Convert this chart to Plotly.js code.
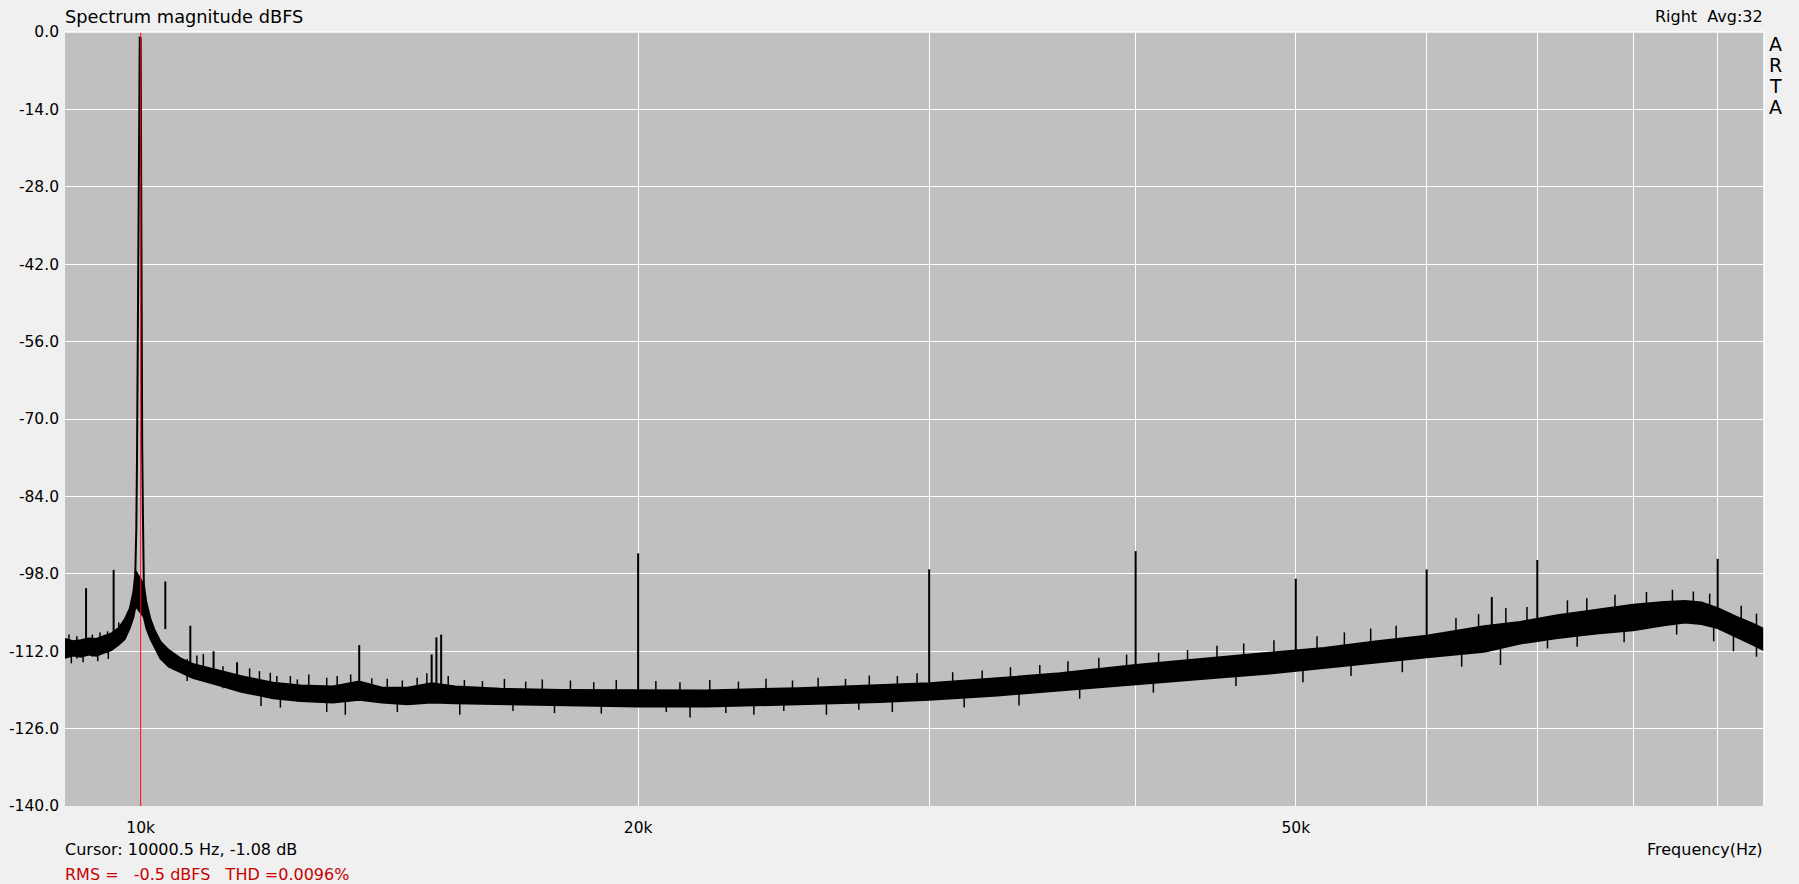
<!DOCTYPE html>
<html>
<head>
<meta charset="utf-8">
<script src="https://cdn.plot.ly/plotly-3.0.1.min.js"></script>
<style>
  html, body { margin: 0; padding: 0; background: #f0f0f0; }
  #chart { width: 1799px; height: 884px; }
</style>
</head>
<body>
<div id="chart"></div>
<script>
// ---- Noise floor band (upper / lower envelope, dBFS) ----
const bandFreq = [9000, 9100, 9200, 9300, 9400, 9500, 9600, 9700, 9780, 9850, 9900, 9930,
  10045, 10080, 10140, 10200, 10280, 10400, 10570, 10750, 10970, 11200, 11490, 11800, 12030,
  12500, 13070, 13560, 14000, 14500, 15000, 15500, 16500, 18000, 20000, 22000, 25000, 28000,
  30000, 33000, 36000, 40000, 44000, 48000, 52000, 56000, 60000, 65000, 68350, 72000, 76000,
  80000, 83500, 86000, 88000, 90000, 92400, 94500, 96000];
const bandUpper = [-109.8, -110.2, -110.0, -109.7, -109.8, -109.3, -108.8, -107.8, -106.3, -104.3, -101.3, -97.5,
  -100.0, -103.2, -106.3, -108.3, -110.3, -111.8, -113.3, -114.3, -115.0, -115.7, -116.5, -117.2, -117.7,
  -118.2, -118.4, -117.5, -118.6, -118.6, -117.8, -118.4, -118.8, -119.0, -119.0, -119.1, -118.7, -118.2,
  -117.8, -116.9, -116.0, -114.5, -113.4, -112.4, -111.4, -110.2, -109.2, -107.5, -106.7, -105.5, -104.5,
  -103.6, -103.1, -102.9, -103.2, -104.2, -105.8, -107.0, -108.0];
const bandLower = [-113.2, -112.8, -113.0, -112.6, -112.8, -112.3, -111.8, -110.8, -109.8, -107.8, -105.8, -103.8,
  -105.8, -107.8, -109.8, -111.3, -113.3, -114.8, -115.8, -116.8, -117.5, -118.3, -119.3, -120.0, -120.5,
  -121.0, -121.3, -120.8, -121.3, -121.6, -121.3, -121.4, -121.6, -121.8, -122.0, -122.0, -121.6, -121.2,
  -120.8, -120.0, -119.1, -118.0, -117.0, -116.1, -115.1, -114.0, -113.1, -112.1, -110.6, -109.6, -108.8,
  -108.2, -107.3, -106.8, -107.1, -107.8, -109.4, -110.8, -111.8];

// ---- Fundamental peak at 10 kHz ----
const peakFreq = [9926, 9940, 9950, 9962, 9975, 9988, 10000, 10006, 10013, 10022, 10031, 10045];
const peakDb   = [-98, -90, -77, -50, -21, -1.05, -1.08, -22, -63, -75, -86, -100];

// ---- Spurs / harmonics ----
const spurFreq = [9268, 9631, 10350, 10717, 11070, 11438, 13560, 15000, 15100, 15200,
  20000, 30000, 40000, 50000, 60000, 65700, 70000, 90000];
const spurTop  = [-100.6, -97.3, -99.4, -107.4, -112.0, -114.0, -110.9, -112.6, -109.5, -109.0,
  -94.3, -97.2, -93.9, -98.9, -97.2, -102.2, -95.5, -95.3];
const spurBase = [-112, -111, -108, -114, -116, -117, -119, -119, -119, -119,
  -120, -119, -116, -114, -111, -109, -108, -106];

// ---- Short noise spikes above the floor (peak dBFS) ----
const upFreq = [9050, 9150, 9350, 9450, 9550, 9700, 10815, 10913, 11215, 11640, 11800, 11980, 12090, 12320,
  12440, 12640, 12960, 13150, 13400, 13800, 14100, 14400, 14700, 14900, 15350, 15700, 16100, 16600,
  17100, 17500, 18200, 18800, 19400, 20500, 21200, 22100, 23000, 23900, 24800, 25700, 26700, 27600,
  28700, 29500, 31000, 32300, 33600, 35000, 36400, 38000, 39500, 41300, 43000, 44800, 46500, 48500,
  51500, 53500, 55500, 57500, 62500, 64500, 67000, 69000, 73000, 75000, 78000, 81500, 84500, 87000,
  89000, 93000, 95000];
const upTop = [-109.0, -109.3, -109.0, -108.6, -108.4, -106.8, -112.8, -112.5, -114.7, -115.1, -115.6, -115.9, -116.5, -116.5,
  -117.1, -116.2, -116.8, -116.5, -116.2, -116.9, -117.0, -117.3, -116.8, -116.0, -116.5, -117.2, -117.4, -117.0,
  -117.5, -117.1, -117.3, -117.6, -117.2, -117.4, -117.6, -117.2, -117.5, -117.0, -117.3, -116.8, -117.0, -116.4,
  -116.5, -116.0, -115.8, -115.5, -114.9, -114.5, -113.8, -113.2, -112.6, -112.3, -111.8, -111.0, -110.6, -110.0,
  -109.3, -108.6, -107.9, -107.4, -106.0, -105.3, -104.2, -104.0, -102.8, -102.4, -101.8, -101.3, -100.9, -101.2,
  -101.6, -103.8, -105.2];

// ---- Short noise dips below the floor (lowest dBFS) ----
const dnFreq = [9080, 9230, 9420, 9560, 10670, 11826, 12150, 12960, 13300, 14300, 15600, 16800, 17800, 19000,
  20800, 21500, 22600, 23500, 24500, 26000, 27200, 28500, 31500, 34000, 37000, 41000, 46000, 50500,
  54000, 58000, 63000, 66500, 71000, 74000, 79000, 85000, 89500, 92000, 95000];
const dnBot = [-114.2, -114.0, -113.8, -113.4, -117.4, -121.9, -122.2, -123.0, -123.5, -123.0, -123.5, -122.8, -123.2, -123.3,
  -123.0, -124.0, -123.2, -123.5, -122.8, -123.5, -122.6, -123.0, -122.2, -121.8, -120.6, -119.5, -118.3, -117.6,
  -116.5, -115.8, -114.8, -114.5, -111.5, -111.2, -110.4, -109.0, -110.2, -112.0, -113.0];

// ---- Axis ticks ----
const yTicks = [0, -14, -28, -42, -56, -70, -84, -98, -112, -126, -140];
const yTickText = ['0.0', '-14.0', '-28.0', '-42.0', '-56.0', '-70.0', '-84.0', '-98.0', '-112.0', '-126.0', '-140.0'];
const xTicks = [10000, 20000, 30000, 40000, 50000, 60000, 70000, 80000, 90000];
const xTickText = ['10k', '20k', '', '', '50k', '', '', '', ''];

const cursorFreq = 10000.5;

// ---- Build traces ----
const SPIKE_LEN = 4; // dB drawn into the band from each short spike tip
const bandX = bandFreq.concat(bandFreq.slice().reverse());
const bandY = bandUpper.concat(bandLower.slice().reverse());

function segs(xs, y0s, y1s) {
  const X = [], Y = [];
  for (let i = 0; i < xs.length; i++) {
    X.push(xs[i], xs[i], null);
    Y.push(y0s[i], y1s[i], null);
  }
  return {X, Y};
}
const spurs = segs(spurFreq, spurBase, spurTop);
const ups = segs(upFreq, upTop.map(v => v - SPIKE_LEN), upTop);
const dns = segs(dnFreq, dnBot.map(v => v + SPIKE_LEN), dnBot);

const traces = [
  {x: bandX, y: bandY, type: 'scatter', mode: 'lines', fill: 'toself', fillcolor: '#000000',
   line: {color: '#000000', width: 2}, hoverinfo: 'skip'},
  {x: ups.X, y: ups.Y, type: 'scatter', mode: 'lines', line: {color: '#000000', width: 1.5}, hoverinfo: 'skip'},
  {x: dns.X, y: dns.Y, type: 'scatter', mode: 'lines', line: {color: '#000000', width: 1.5}, hoverinfo: 'skip'},
  {x: spurs.X, y: spurs.Y, type: 'scatter', mode: 'lines', line: {color: '#000000', width: 2}, hoverinfo: 'skip'},
  {x: peakFreq, y: peakDb, type: 'scatter', mode: 'lines', line: {color: '#000000', width: 2}, hoverinfo: 'skip'},
  {x: [cursorFreq, cursorFreq], y: [-140, 0], type: 'scatter', mode: 'lines', line: {color: '#ff0000', width: 1}, hoverinfo: 'skip'}
];

// ---- Layout helpers (pixel -> paper) ----
const L = 65, T = 32, W = 1699, H = 774;
const px = v => (v - L) / W;
const py = v => (T + H - v) / H;
const FONT = 'DejaVu Sans, Liberation Sans, Arial, sans-serif';

function ann(text, x, y, xanchor, size, color) {
  return {text: text, x: px(x), y: py(y), xref: 'paper', yref: 'paper', xanchor: xanchor, yanchor: 'middle',
          showarrow: false, font: {family: FONT, size: size, color: color || '#000000'}};
}

const annotations = [
  ann('Spectrum magnitude dBFS', 63, 16, 'left', 17.8),
  ann('Right\u00a0\u00a0Avg:32', 1765, 17, 'right', 16),
  ann('A', 1775, 44, 'center', 19),
  ann('R', 1775, 65, 'center', 19),
  ann('T', 1775, 86, 'center', 19),
  ann('A', 1775, 107, 'center', 19),
  ann('Cursor: 10000.5 Hz, -1.08 dB', 63, 849, 'left', 16),
  ann('RMS =\u00a0\u00a0\u00a0-0.5 dBFS\u00a0\u00a0\u00a0THD =0.0096%', 63, 874, 'left', 16, '#c80000'),
  ann('Frequency(Hz)', 1765, 849, 'right', 16)
];

const layout = {
  width: 1799, height: 884,
  margin: {l: L, r: 1799 - L - W, t: T, b: 884 - T - H, pad: 0},
  paper_bgcolor: '#f0f0f0', plot_bgcolor: '#c0c0c0',
  showlegend: false,
  font: {family: FONT, size: 15.5, color: '#000000'},
  xaxis: {type: 'log', range: [Math.log10(9000), Math.log10(96000)], tickvals: xTicks, ticktext: xTickText,
          showgrid: true, gridcolor: '#ffffff', gridwidth: 1, zeroline: false, showline: false, ticks: '',
          ticklabelstandoff: 10, tickfont: {family: FONT, size: 15.5, color: '#000000'}, fixedrange: true},
  yaxis: {range: [-140, 0], tickvals: yTicks, ticktext: yTickText,
          showgrid: true, gridcolor: '#ffffff', gridwidth: 1, zeroline: false, showline: false, ticks: '',
          ticklabelstandoff: 5, tickfont: {family: FONT, size: 15.5, color: '#000000'}, fixedrange: true},
  shapes: [
    {type: 'line', xref: 'paper', yref: 'paper', x0: 0, x1: 1, y0: 1, y1: 1, line: {color: '#ffffff', width: 1.5}},
    {type: 'line', xref: 'paper', yref: 'paper', x0: 1, x1: 1, y0: 0, y1: 1, line: {color: '#ffffff', width: 1.5}}
  ],
  annotations: annotations
};

Plotly.newPlot('chart', traces, layout, {staticPlot: true, displayModeBar: false});
</script>
</body>
</html>
